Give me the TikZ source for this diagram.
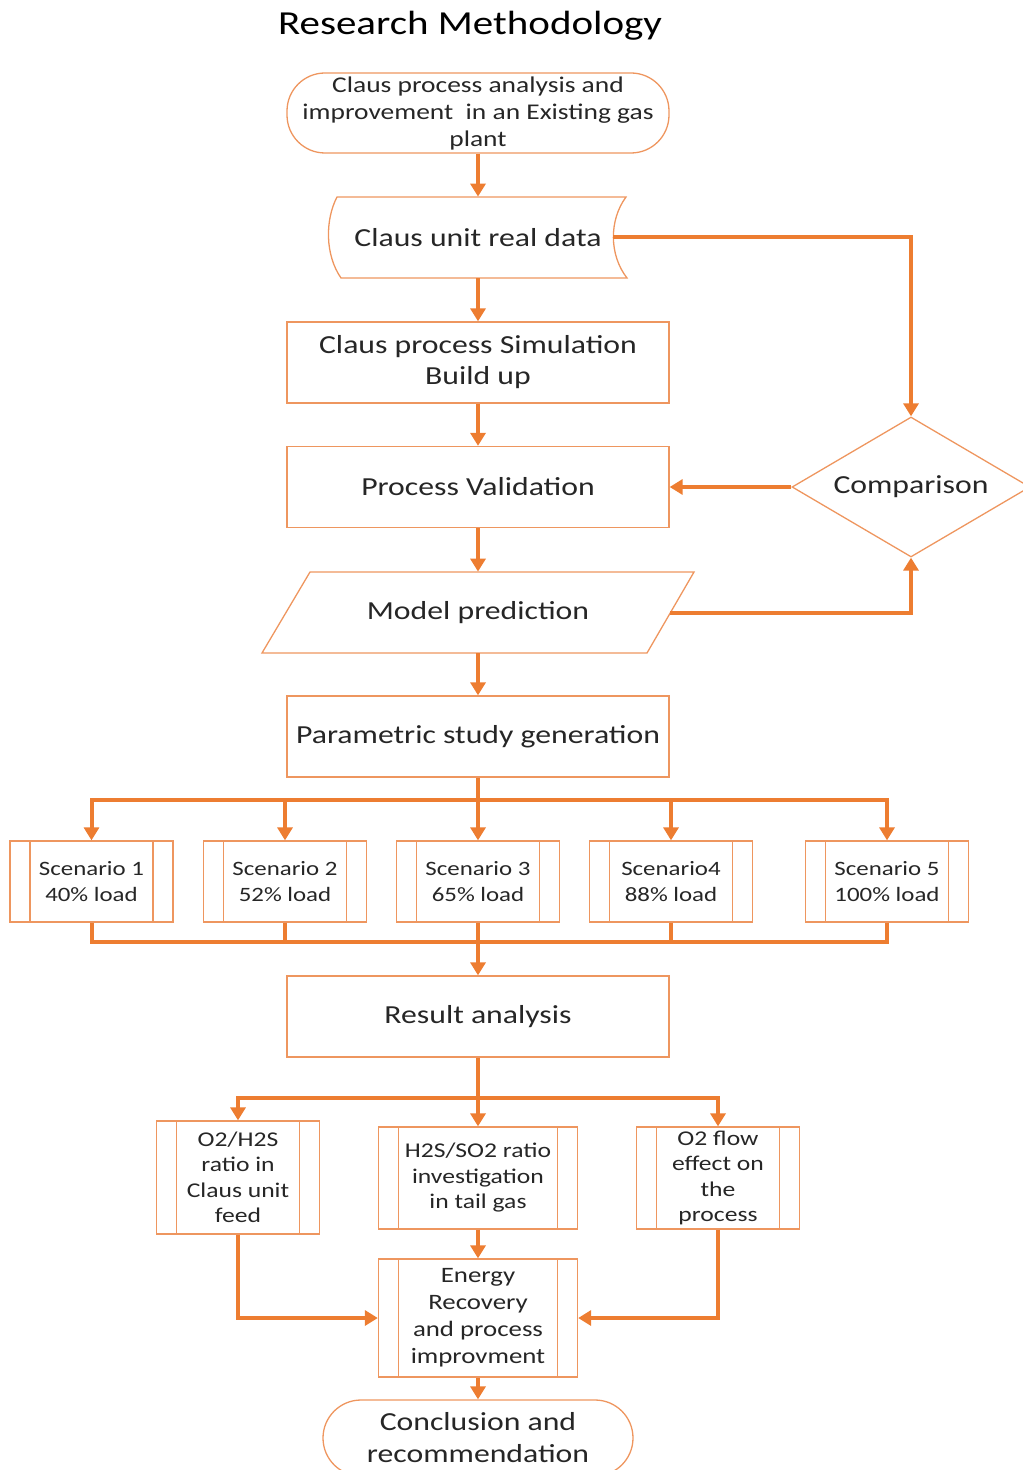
\documentclass[tikz,border=0pt]{standalone}
\usepackage{fontspec}
\setmainfont{Carlito}[FakeStretch=1.22]
\usetikzlibrary{arrows.meta,shapes.geometric}
\definecolor{org}{RGB}{237,125,49}
\definecolor{bord}{RGB}{238,150,95}
\definecolor{txt}{RGB}{38,38,38}
\tikzset{
 shp/.style={draw=bord, line width=0.65pt},
 box/.style={shp, rectangle, minimum width=191pt, minimum height=40.5pt, inner sep=0pt, align=center, text=txt, font=\fontsize{13}{15.5}\selectfont},
 term/.style={shp, rectangle, rounded corners=19pt, inner sep=0pt, align=center, text=txt},
 proc/.style={shp, rectangle, inner sep=0pt, align=center, text=txt,
   path picture={\draw[bord, line width=0.65pt]
     ([xshift=10pt]path picture bounding box.north west) -- ([xshift=10pt]path picture bounding box.south west)
     ([xshift=-10pt]path picture bounding box.north east) -- ([xshift=-10pt]path picture bounding box.south east);}},
 scen/.style={proc, minimum width=81.5pt, minimum height=40.5pt, font=\fontsize{10.2}{13}\selectfont},
 sub/.style={proc, font=\fontsize{10.5}{12.75}\selectfont},
 conn/.style={draw=org, line width=2pt},
 arr/.style={conn, -{Triangle[length=6.5pt,width=7.5pt]}},
 lbl/.style={text=txt, align=center, inner sep=0pt, font=\fontsize{13}{15.5}\selectfont},
}
\begin{document}
\begin{tikzpicture}[x=0.5pt,y=-0.5pt]
\useasboundingbox (0,0) rectangle (1022,1470);
\node[text=black, font=\fontsize{16.8}{20}\selectfont] (title) at (470,26) {Research Methodology};
\node[term, minimum width=191pt, minimum height=40pt, font=\fontsize{11.25}{13.5}\selectfont, text depth=1.5pt] (start) at (478,113) {Claus process analysis and\\improvement\ \ in an Existing gas\\plant};
% stored data shape
\draw[shp] (337,197) -- (626,197) .. controls (609,220) and (609,255) .. (627,278) -- (341,278) .. controls (325,255) and (325,220) .. (337,197) -- cycle;
\node[lbl, minimum height=40.5pt] (data) at (478,237.5) {Claus unit real data};
\coordinate (dataR) at (613,237.5);
\node[box] (sim) at (478,362.5) {Claus process Simulation\\Build up};
\node[box] (val) at (478,487) {Process Validation};
\node[shp, diamond, minimum width=119pt, minimum height=70pt, shape aspect=1.7, inner sep=0pt, text=txt, font=\fontsize{13}{15.5}\selectfont] (cmp) at (911,487) {Comparison};
% parallelogram
\draw[shp] (310,572) -- (694,572) -- (647,653) -- (262,653) -- cycle;
\node[lbl, minimum height=40.5pt] (pred) at (478,612.5) {Model prediction};
\coordinate (predR) at (670,612.5);
\node[box] (param) at (478,736.5) {Parametric study generation};
\node[scen] (s1) at (91.5,881.5) {Scenario 1\\40\% load};
\node[scen] (s2) at (285,881.5) {Scenario 2\\52\% load};
\node[scen] (s3) at (478,881.5) {Scenario 3\\65\% load};
\node[scen] (s4) at (671,881.5) {Scenario4\\88\% load};
\node[scen] (s5) at (887,881.5) {Scenario 5\\100\% load};
\node[box] (res) at (478,1016.5) {Result analysis};
\node[sub, minimum width=81.5pt, minimum height=56.5pt] (b1) at (238,1177.5) {O2/H2S\\ratio in\\Claus unit\\feed};
\node[sub, minimum width=99.5pt, minimum height=51pt] (b2) at (478,1178) {H2S/SO2 ratio\\investigation\\in tail gas};
\node[sub, minimum width=81.5pt, minimum height=51pt] (b3) at (718,1178) {O2 flow\\effect on\\the\\process};
\node[sub, minimum width=99.5pt, minimum height=59pt, font=\fontsize{11}{13.5}\selectfont] (en) at (478,1318) {Energy\\Recovery\\and process\\improvment};
\node[term, minimum width=155pt, minimum height=38pt, font=\fontsize{13}{16}\selectfont] (concl) at (478,1438) {Conclusion and\\recommendation};
% connectors
\draw[arr] (start.south) -- (data.north);
\draw[arr] (data.south) -- (sim.north);
\draw[arr] (sim.south) -- (val.north);
\draw[arr] (dataR) -| (cmp.north);
\draw[arr] (cmp.west) -- (val.east);
\draw[arr] (val.south) -- (pred.north);
\draw[arr] (predR) -| (cmp.south);
\draw[arr] (pred.south) -- (param.north);
\coordinate (busA) at (478,800);
\draw[conn] (param.south) -- (busA);
\foreach \n in {s1,s2,s3,s4,s5} {\draw[arr] (busA) -| (\n.north);}
\coordinate (busB) at (478,942);
\foreach \n in {s1,s2,s3,s4,s5} {\draw[conn] (\n.south) |- (busB);}
\draw[arr] (busB) -- (res.north);
\coordinate (busC) at (478,1098);
\draw[conn] (res.south) -- (busC);
\draw[arr] (busC) -| (b1.north);
\draw[arr] (busC) -- (b2.north);
\draw[arr] (busC) -| (b3.north);
\draw[arr] (b2.south) -- (en.north);
\draw[arr] (b1.south) |- (en.west);
\draw[arr] (b3.south) |- (en.east);
\draw[arr] (en.south) -- (concl.north);
\end{tikzpicture}
\end{document}
